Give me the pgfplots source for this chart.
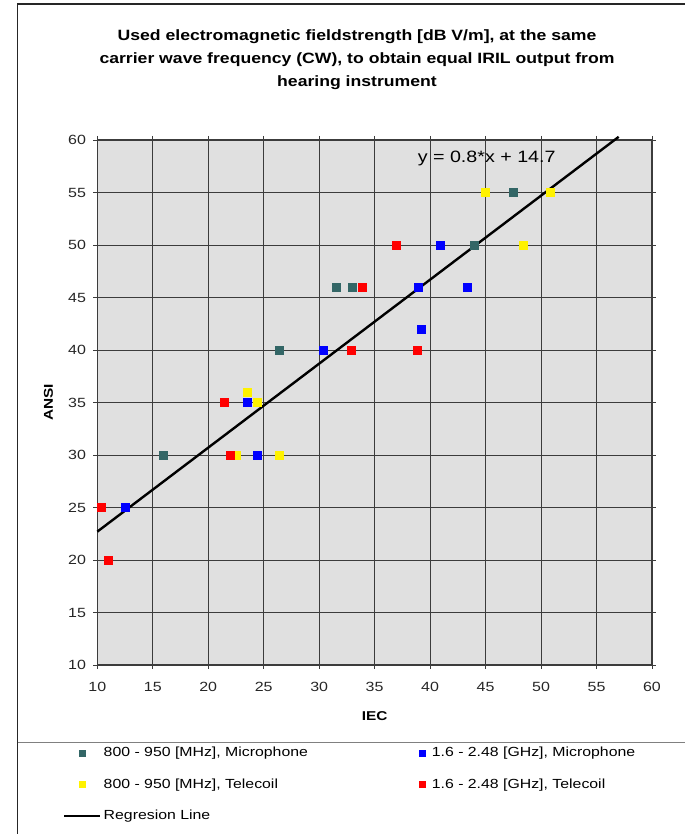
\documentclass[border=0pt]{standalone}
\usepackage{fontspec}
\setmainfont[FakeStretch=1.2]{Liberation Sans}
\newfontfamily\titlefont[FakeStretch=1.18]{Liberation Sans}
\usepackage{pgfplots}
\pgfplotsset{compat=1.18}

\definecolor{teal800}{RGB}{51,102,102}
\definecolor{plotbg}{RGB}{224,224,224}
\definecolor{gridc}{RGB}{60,60,60}

% legend pictures: marks centred (left column) or to the right (right column)
\pgfplotsset{
  legleft/.style={legend image code/.code={%
    \draw[##1, mark size=2.2pt] plot coordinates {(13.5pt,0pt)};
    \path (0pt,0pt) (27pt,0pt);}},
  legright/.style={legend image code/.code={%
    \draw[##1, mark size=2.2pt] plot coordinates {(21.75pt,0pt)};
    \path (0pt,0pt) (27pt,0pt);}},
  legline/.style={legend image code/.code={%
    \draw[##1] (0pt,0pt) -- (27pt,0pt);}},
}

\begin{document}
\begin{tikzpicture}[x=0.75pt,y=0.75pt]
% page is 685 x 834 px, drawn in px units
\useasboundingbox (0,0) rectangle (685,834);
\draw[line width=1.1pt, black!85] (17.5,0) -- (17.5,830) -- (685,830);
\draw[line width=0.9pt, gray] (17.5,91.3) -- (685,91.3);

\node[font=\titlefont\bfseries\fontsize{11.2}{17.3}\selectfont, align=center]
  at (357,774) {Used electromagnetic fieldstrength [dB V/m], at the same\\
  carrier wave frequency (CW), to obtain equal IRIL output from\\
  hearing instrument};

\begin{axis}[
    at={(72.98pt,126.75pt)}, anchor=south west,
    scale only axis,
    width=416pt, height=393.75pt,
    xmin=10, xmax=60, ymin=10, ymax=60,
    xtick={10,15,...,60}, ytick={10,15,...,60},
    grid=major,
    major grid style={gridc, line width=0.6pt},
    axis line style={gridc, line width=0.9pt},
    tick align=outside,
    major tick length=3pt,
    tick style={gridc, line width=0.6pt},
    axis background/.style={fill=plotbg},
    /pgf/number format/assume math mode=true,
    ticklabel style={font=\fontsize{10}{12}\selectfont, text=black!85},
    xticklabel style={yshift=-6.5pt},
    yticklabel style={xshift=-2pt},
    xlabel={\textbf{IEC}},
    ylabel={\textbf{ANSI}},
    label style={font=\fontsize{9.6}{11}\selectfont},
    xlabel style={at={(axis description cs:0.5,-0.098)}, anchor=center},
    ylabel style={at={(axis description cs:-0.088,0.5)}, anchor=center},
    clip=false,
    legend columns=2,
    legend cell align=left,
    legend style={
        draw=none, fill=none, inner sep=0pt,
        at={(-0.062,-0.151)}, anchor=north west,
        font=\fontsize{9.9}{12}\selectfont,
        /tikz/every even column/.append style={column sep=61.5pt},
        row sep=11pt,
    },
]
% regression line, drawn first so the marks sit on top
\addplot[black, line width=1.8pt, forget plot] coordinates {(10,22.7) (57,60.3)};

\addplot[only marks, mark=square*, mark size=3pt, color=teal800, legleft]
  coordinates {(15.95,30) (26.4,40) (31.5,46) (33.0,46) (44.0,50) (47.5,55)};
\addlegendentry{800 - 950 [MHz], Microphone}

\addplot[only marks, mark=square*, mark size=3pt, color=blue, legright]
  coordinates {(12.55,25) (23.5,35) (24.4,30) (30.4,40) (38.95,46) (39.2,42) (40.95,50) (43.35,46)};
\addlegendentry{1.6 - 2.48 [GHz], Microphone}

\addplot[only marks, mark=square*, mark size=3pt, color=yellow, legleft]
  coordinates {(22.55,30) (23.5,36) (24.45,35) (26.4,30) (45.0,55) (48.4,50) (50.8,55)};
\addlegendentry{800 - 950 [MHz], Telecoil}

\addplot[only marks, mark=square*, mark size=3pt, color=red, legright]
  coordinates {(10.4,25) (11.0,20) (21.4,35) (22.0,30) (32.9,40) (33.9,46) (36.95,50) (38.8,40)};
\addlegendentry{1.6 - 2.48 [GHz], Telecoil}

\addlegendimage{black, line width=1.4pt, legline}
\addlegendentry{Regresion Line}

\node[font=\fontsize{12.3}{14}\selectfont] at (axis cs:45.1,58.26) {y = 0.8*x + 14.7};
\end{axis}
\end{tikzpicture}
\end{document}
